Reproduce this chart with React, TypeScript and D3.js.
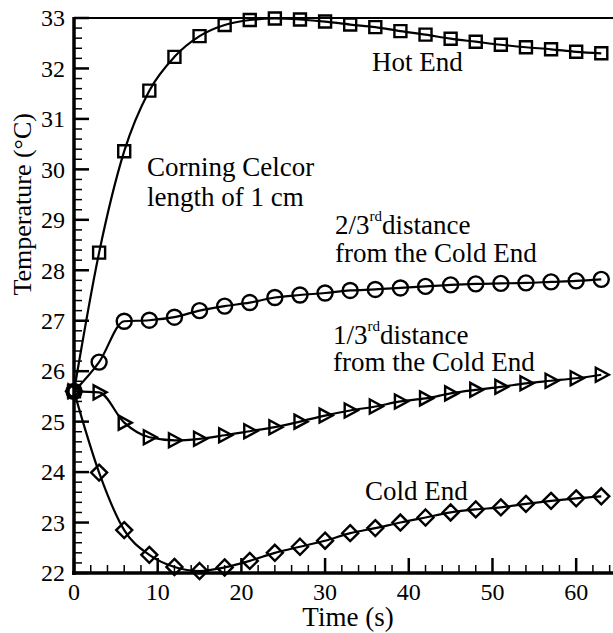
import React from "react";
import * as d3 from "d3";

// Sampling times (s)
const time = [0, 3, 6, 9, 12, 15, 18, 21, 24, 27, 30, 33, 36, 39, 42, 45, 48, 51, 54, 57, 60, 63];

// Temperatures (°C) at four positions along the substrate
const hotEnd = [25.6, 28.35, 30.36, 31.56, 32.23, 32.64, 32.86, 32.96, 32.99, 32.97, 32.93, 32.87, 32.82, 32.74, 32.67, 32.59, 32.53, 32.47, 32.42, 32.38, 32.33, 32.3];
const twoThird = [25.6, 26.18, 26.99, 27.01, 27.07, 27.2, 27.29, 27.36, 27.46, 27.51, 27.55, 27.6, 27.62, 27.65, 27.68, 27.71, 27.73, 27.74, 27.75, 27.77, 27.79, 27.82];
const oneThird = [25.6, 25.58, 24.98, 24.69, 24.63, 24.66, 24.73, 24.81, 24.89, 25.0, 25.12, 25.22, 25.3, 25.4, 25.46, 25.56, 25.63, 25.69, 25.76, 25.81, 25.86, 25.93];
const coldEnd = [25.6, 23.99, 22.85, 22.36, 22.12, 22.04, 22.11, 22.24, 22.4, 22.52, 22.64, 22.79, 22.89, 23.0, 23.1, 23.2, 23.26, 23.3, 23.37, 23.43, 23.48, 23.52];

const xMajorTicks = [0, 10, 20, 30, 40, 50, 60];
const yMajorTicks = [22, 23, 24, 25, 26, 27, 28, 29, 30, 31, 32, 33];

const W = 613;
const H = 633;
const FONT = "Liberation Serif";
// baseline offset from the top of a line box whose line-height equals the font size
const BASE = 0.8375;

const x = d3.scaleLinear().domain([0, 64.4]).range([74, 613]);
const y = d3.scaleLinear().domain([22, 33]).range([573, 18]);

type Marker = "square" | "circle" | "triangle" | "diamond";

function markerPath(kind: Marker): string {
  switch (kind) {
    case "square":
      return "M-6,-6H6V6H-6Z";
    case "circle":
      return "M7.5,0A7.5,7.5,0,1,1,-7.5,0A7.5,7.5,0,1,1,7.5,0Z";
    case "triangle":
      return "M-5.5,-7L7.5,0L-5.5,7Z";
    case "diamond":
      return "M0,-8L8,0L0,8L-8,0Z";
  }
}

const series: { values: number[]; marker: Marker }[] = [
  { values: hotEnd, marker: "square" },
  { values: twoThird, marker: "circle" },
  { values: oneThird, marker: "triangle" },
  { values: coldEnd, marker: "diamond" },
];

type Anchor = "start" | "middle" | "end";

function Label(props: { x: number; y: number; size: number; anchor?: Anchor; children: React.ReactNode }) {
  const { x: lx, y: ly, size, anchor = "start", children } = props;
  const shift = anchor === "middle" ? "translateX(-50%)" : anchor === "end" ? "translateX(-100%)" : "none";
  return (
    <div
      style={{
        position: "absolute",
        left: lx,
        top: ly - BASE * size,
        fontSize: size,
        lineHeight: `${size}px`,
        fontFamily: FONT,
        whiteSpace: "nowrap",
        color: "#000",
        transform: shift,
      }}
    >
      {children}
    </div>
  );
}

function Sup(props: { children: React.ReactNode }) {
  return <span style={{ fontSize: 15, position: "relative", top: -13 }}>{props.children}</span>;
}

export default function App() {
  const line = d3
    .line<number>()
    .x((_, i) => x(time[i]))
    .y((v) => y(v))
    .curve(d3.curveMonotoneX);

  const xMinor = d3.range(0, 64.01, 2).filter((t) => t % 10 !== 0);
  const yMinor = d3
    .range(22, 33.001, 0.2)
    .map((v) => Math.round(v * 10) / 10)
    .filter((v) => Math.abs(v - Math.round(v)) > 1e-6);

  const x0 = x(0);
  const y0 = y(22);

  return (
    <div style={{ position: "absolute", left: 0, top: 0, width: W, height: H, background: "#fff" }}>
      <svg width={W} height={H} style={{ position: "absolute", left: 0, top: 0 }}>
        {/* series */}
        {series.map((s, k) => (
          <g key={k}>
            <path d={line(s.values) || ""} fill="none" stroke="#000" strokeWidth={2.2} />
            {s.values.map((v, i) => (
              <path
                key={i}
                d={markerPath(s.marker)}
                transform={`translate(${x(time[i])},${y(v)})`}
                fill="none"
                stroke="#000"
                strokeWidth={2.4}
              />
            ))}
          </g>
        ))}

        {/* frame */}
        <line x1={x0} x2={W} y1={y(33)} y2={y(33)} stroke="#000" strokeWidth={2} />
        <line x1={x0} x2={x0} y1={y(33) - 1} y2={y0 + 2} stroke="#000" strokeWidth={3.5} />
        <line x1={x0 - 2} x2={W} y1={y0} y2={y0} stroke="#000" strokeWidth={3.5} />

        {/* ticks */}
        {xMajorTicks.map((t) => (
          <line key={`xm${t}`} x1={x(t)} x2={x(t)} y1={y0} y2={y0 - 15} stroke="#000" strokeWidth={2.5} />
        ))}
        {xMinor.map((t) => (
          <line key={`xn${t}`} x1={x(t)} x2={x(t)} y1={y0} y2={y0 - 8} stroke="#000" strokeWidth={1.5} />
        ))}
        {yMajorTicks.map((v) => (
          <line key={`ym${v}`} x1={x0} x2={x0 + 15} y1={y(v)} y2={y(v)} stroke="#000" strokeWidth={2.5} />
        ))}
        {yMinor.map((v) => (
          <line key={`yn${v}`} x1={x0} x2={x0 + 8} y1={y(v)} y2={y(v)} stroke="#000" strokeWidth={1.5} />
        ))}
      </svg>

      {/* tick labels */}
      {xMajorTicks.map((t) => (
        <Label key={`xl${t}`} x={x(t)} y={600} size={24} anchor="middle">
          {t}
        </Label>
      ))}
      {yMajorTicks.map((v) => (
        <Label key={`yl${v}`} x={65} y={y(v) + 0.35 * 24} size={24} anchor="end">
          {v}
        </Label>
      ))}

      {/* axis titles */}
      <Label x={348} y={627} size={27} anchor="middle">
        Time (s)
      </Label>
      <div
        style={{
          position: "absolute",
          left: 32 - BASE * 26,
          top: 113,
          fontSize: 26,
          lineHeight: "26px",
          fontFamily: FONT,
          whiteSpace: "nowrap",
          color: "#000",
          transformOrigin: "0 0",
          transform: "rotate(-90deg) translateX(-100%)",
        }}
      >
        Temperature (°C)
      </div>

      {/* annotations */}
      <Label x={372} y={72} size={27}>Hot End</Label>
      <Label x={147} y={177} size={27}>Corning Celcor</Label>
      <Label x={147} y={207} size={27}>length of 1 cm</Label>
      <Label x={335} y={235} size={27}>
        2/3<Sup>rd</Sup>distance
      </Label>
      <Label x={335} y={263} size={27}>from the Cold End</Label>
      <Label x={333} y={345} size={27}>
        1/3<Sup>rd</Sup>distance
      </Label>
      <Label x={333} y={372} size={27}>from the Cold End</Label>
      <Label x={365} y={501} size={27}>Cold End</Label>
    </div>
  );
}
